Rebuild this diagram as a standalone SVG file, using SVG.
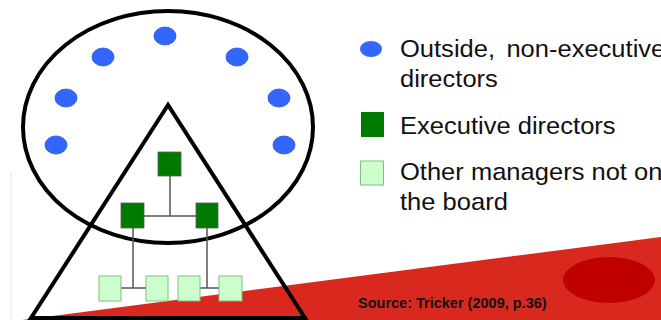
<svg xmlns="http://www.w3.org/2000/svg" width="661" height="320" viewBox="0 0 661 320">
<style>
.nx{fill:#3366ff;stroke:#2a55d0;stroke-width:0.8}
.ex{fill:#007a00;stroke:#5a5a5a;stroke-width:0.8}
.mg{fill:#ccffcc;stroke:#7fbf7f;stroke-width:1}
.ln{stroke:#555;stroke-width:1.5;fill:none}
.t{font-family:"Liberation Sans",Arial,sans-serif;font-size:24px;fill:#111}
</style>
<rect width="661" height="320" fill="#fff"/>
<line x1="11" y1="172" x2="11" y2="320" stroke="#eeeeee" stroke-width="1.5"/>
<polygon points="22,320 661,237 661,320" fill="#d9291f"/>
<ellipse cx="609" cy="280" rx="46" ry="23" fill="#c00000"/>
<g id="board"><ellipse cx="168" cy="127" rx="145" ry="116" fill="none" stroke="#000" stroke-width="4"/></g>
<g id="triangle"><polygon points="168,105 31,318 305,318" fill="none" stroke="#000" stroke-width="4" stroke-linejoin="miter"/></g>
<g id="nonexec">
<ellipse class="nx" cx="165" cy="36" rx="11" ry="9"/>
<ellipse class="nx" cx="103" cy="57" rx="11" ry="9"/>
<ellipse class="nx" cx="237" cy="57" rx="11" ry="9"/>
<ellipse class="nx" cx="66" cy="98" rx="11" ry="9"/>
<ellipse class="nx" cx="279" cy="98" rx="11" ry="9"/>
<ellipse class="nx" cx="56" cy="145" rx="11" ry="9"/>
<ellipse class="nx" cx="284" cy="145" rx="11" ry="9"/>
</g>
<g id="connectors">
<path class="ln" d="M170,176 V216 M144,216 H196 M133,228 V288 M121,288 H146 M207,228 V288 M200,288 H219"/>
</g>
<g id="exec1"><rect class="ex" x="158" y="152" width="23" height="24"/></g>
<g id="exec2"><rect class="ex" x="121" y="203" width="23" height="25"/></g>
<g id="exec3"><rect class="ex" x="196" y="203" width="22" height="25"/></g>
<g id="mgr1"><rect class="mg" x="99" y="276" width="22" height="25"/></g>
<g id="mgr2"><rect class="mg" x="146" y="276" width="22" height="25"/></g>
<g id="mgr3"><rect class="mg" x="178" y="276" width="22" height="25"/></g>
<g id="mgr4"><rect class="mg" x="219" y="276" width="23" height="25"/></g>
<g id="legend">
<ellipse cx="371" cy="49" rx="11" ry="8" fill="#3366ff"/>
<rect x="361" y="112" width="23" height="25" fill="#007a00"/>
<rect x="360.5" y="161" width="23" height="24" fill="#ccffcc" stroke="#7fbf7f" stroke-width="1"/>
<g transform="translate(400,0) scale(1.064,1) translate(-400,0)">
<text class="t" x="400" y="57" word-spacing="4">Outside, non-executive</text>
<text class="t" x="400" y="87">directors</text>
<text class="t" x="400" y="134">Executive directors</text>
<text class="t" x="400" y="180">Other managers not on</text>
<text class="t" x="400" y="210">the board</text>
</g>
</g>
<text x="358" y="308" font-family="'Liberation Sans',Arial,sans-serif" font-size="14.5" font-weight="bold" fill="#111">Source: Tricker (2009, p.36)</text>
</svg>
